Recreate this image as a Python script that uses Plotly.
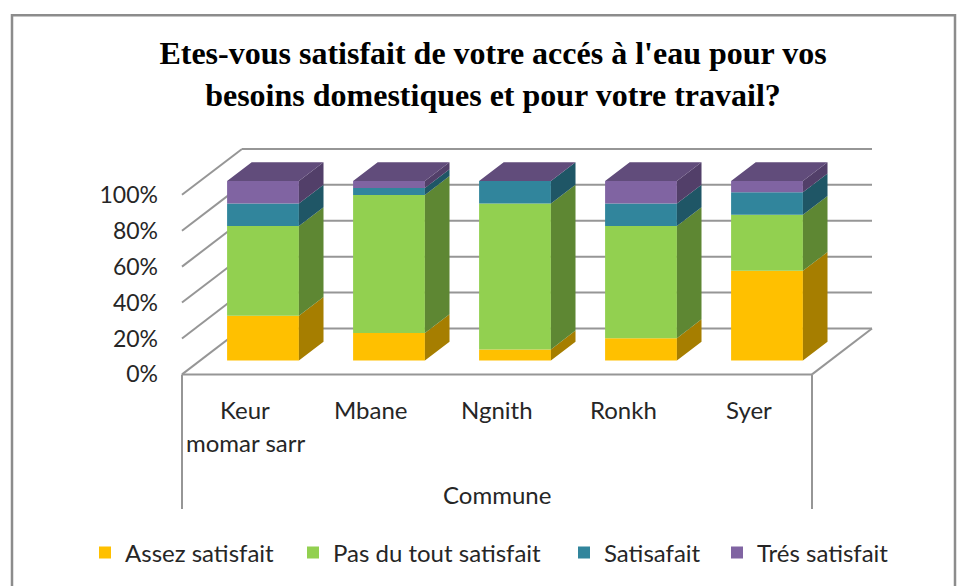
import plotly.graph_objects as go

# ---- data -------------------------------------------------------------
communes = ["Keur momar sarr", "Mbane", "Ngnith", "Ronkh", "Syer"]
commune_lines = [["Keur", "momar sarr"], ["Mbane"], ["Ngnith"], ["Ronkh"], ["Syer"]]
series_names = ["Assez satisfait", "Pas du tout satisfait", "Satisafait", "Trés satisfait"]
assez_satisfait = [25.0, 15.38, 6.25, 12.5, 50.0]
pas_du_tout_satisfait = [50.0, 76.92, 81.25, 62.5, 31.25]
satisafait = [12.5, 3.85, 12.5, 12.5, 12.5]
tres_satisfait = [12.5, 3.85, 0.0, 12.5, 6.25]
tick_values = [0, 20, 40, 60, 80, 100]
tick_labels = ["0%", "20%", "40%", "60%", "80%", "100%"]

series_values = [assez_satisfait, pas_du_tout_satisfait, satisafait, tres_satisfait]

# ---- styling ----------------------------------------------------------
front_colors = ["#FFC000", "#92D050", "#31859C", "#8064A2"]
side_colors = ["#A67E00", "#5E8733", "#1F5666", "#523F69"]
top_color = "#614C7B"
grid_color = "#969696"
text_color = "#262626"
label_font = "Lato"

W, H = 962, 586
ML, MR, MT, MB = 165, 62, 120, 56
SLOT_PX = 126.0          # width of one category slot
PCT_PX = 1.8             # pixels per percent
FLOOR_LEFT_PX = 182.0    # front-left corner of the floor
FLOOR_Y_PX = 375.0       # front edge of the floor (0 %)

# oblique projection of the chart depth, in data units
DEPTH_X = 60.0 / SLOT_PX
DEPTH_Y = 46.0 / PCT_PX
BAR_FRONT = 0.30         # depth fraction where the bar front faces sit
BAR_DEPTH = 0.41         # depth fraction occupied by each bar
BAR_WIDTH = 0.57

x0 = -0.5 - (FLOOR_LEFT_PX - ML) / SLOT_PX
x1 = x0 + (W - ML - MR) / SLOT_PX
y1 = (FLOOR_Y_PX - MT) / PCT_PX
y0 = -((H - MB) - FLOOR_Y_PX) / PCT_PX

n_cat = len(communes)
left_edge = -0.5
right_edge = n_cat - 0.5

fx = BAR_FRONT * DEPTH_X
fy = BAR_FRONT * DEPTH_Y
bdx = BAR_DEPTH * DEPTH_X
bdy = BAR_DEPTH * DEPTH_Y

pw = W - ML - MR
ph = H - MT - MB
def px_to_paper_x(px):
    return (px - ML) / pw
def px_to_paper_y(py):
    return ((H - MB) - py) / ph

# each legend entry gets its own legend box so the spacing can be set
legend_ids = ["legend", "legend2", "legend3", "legend4"]
legend_text_start_px = [124, 332, 603, 756]

fig = go.Figure()

# front faces of the stacked columns
cumulative = [0.0] * n_cat
bases = []
for s, vals in enumerate(series_values):
    base = [fy + c for c in cumulative]
    bases.append(list(cumulative))
    fig.add_trace(go.Bar(
        x=[i + fx for i in range(n_cat)],
        y=vals,
        base=base,
        width=BAR_WIDTH,
        name=series_names[s],
        legend=legend_ids[s],
        marker=dict(color=front_colors[s], line=dict(width=0)),
        customdata=communes,
        hovertemplate="%{customdata}<br>" + series_names[s] + ": %{y:.1f}%<extra></extra>",
    ))
    cumulative = [c + v for c, v in zip(cumulative, vals)]

# right-hand side faces, one polygon per segment
for s, vals in enumerate(series_values):
    xs, ys = [], []
    for i in range(n_cat):
        v = vals[i]
        if v <= 0:
            continue
        xr = i + fx + BAR_WIDTH / 2
        ya = fy + bases[s][i]
        yb = ya + v
        xs += [xr, xr + bdx, xr + bdx, xr, xr, None]
        ys += [ya, ya + bdy, yb + bdy, yb, ya, None]
    fig.add_trace(go.Scatter(
        x=xs, y=ys, mode="lines", fill="toself", fillcolor=side_colors[s],
        line=dict(width=0, color=side_colors[s]), showlegend=False, hoverinfo="skip",
    ))

# top faces
xs, ys = [], []
for i in range(n_cat):
    xl = i + fx - BAR_WIDTH / 2
    xr = i + fx + BAR_WIDTH / 2
    yt = fy + cumulative[i]
    xs += [xl, xl + bdx, xr + bdx, xr, xl, None]
    ys += [yt, yt + bdy, yt + bdy, yt, yt, None]
fig.add_trace(go.Scatter(
    x=xs, y=ys, mode="lines", fill="toself", fillcolor=top_color,
    line=dict(width=0, color=top_color), showlegend=False, hoverinfo="skip",
))

# walls and floor
shapes = []
line_style = dict(color=grid_color, width=2)
for v in tick_values:
    # back wall gridline
    shapes.append(dict(type="line", xref="x", yref="y", layer="below",
                       x0=left_edge + DEPTH_X, y0=v + DEPTH_Y,
                       x1=right_edge + DEPTH_X, y1=v + DEPTH_Y, line=line_style))
    # side wall gridline
    shapes.append(dict(type="line", xref="x", yref="y", layer="below",
                       x0=left_edge, y0=v, x1=left_edge + DEPTH_X, y1=v + DEPTH_Y,
                       line=line_style))
# floor front and right edges
shapes.append(dict(type="line", xref="x", yref="y", layer="below",
                   x0=left_edge, y0=0, x1=right_edge, y1=0, line=line_style))
shapes.append(dict(type="line", xref="x", yref="y", layer="below",
                   x0=right_edge, y0=0, x1=right_edge + DEPTH_X, y1=DEPTH_Y, line=line_style))
# category band edges below the floor
band_bottom = -(510 - FLOOR_Y_PX) / PCT_PX
for xe in (left_edge, right_edge):
    shapes.append(dict(type="line", xref="x", yref="y", layer="below",
                       x0=xe, y0=0, x1=xe, y1=band_bottom, line=line_style))

# outer chart frame
shapes.append(dict(type="rect", xref="paper", yref="paper",
                   x0=px_to_paper_x(12), x1=px_to_paper_x(955),
                   y0=px_to_paper_y(620), y1=px_to_paper_y(15),
                   line=dict(color="#8C8C8C", width=2.5), layer="below"))

# category labels and axis title
annotations = []
line_step = 33 / PCT_PX
first_line_y = -(410 - FLOOR_Y_PX) / PCT_PX
for i, lines in enumerate(commune_lines):
    for k, txt in enumerate(lines):
        annotations.append(dict(x=i, y=first_line_y - k * line_step, xref="x", yref="y",
                                text=txt, showarrow=False, xanchor="center", yanchor="middle",
                                font=dict(family=label_font, size=24, color=text_color)))
annotations.append(dict(x=(n_cat - 1) / 2, y=-(495 - FLOOR_Y_PX) / PCT_PX, xref="x", yref="y",
                        text="Commune", showarrow=False, xanchor="center", yanchor="middle",
                        font=dict(family=label_font, size=24, color=text_color)))

layout_legends = {}
for lid, tx in zip(legend_ids, legend_text_start_px):
    layout_legends[lid] = dict(
        orientation="h", x=px_to_paper_x(tx - 39), xanchor="left",
        y=px_to_paper_y(553), yanchor="middle",
        font=dict(family=label_font, size=24, color=text_color),
        bgcolor="rgba(0,0,0,0)",
    )

fig.update_layout(
    width=W, height=H,
    margin=dict(l=ML, r=MR, t=MT, b=MB),
    paper_bgcolor="white", plot_bgcolor="white",
    barmode="overlay",
    title=dict(
        text="Etes-vous satisfait de votre accés à l'eau pour vos<br>besoins domestiques et pour votre travail?",
        x=493 / W, xanchor="center", xref="container",
        y=1 - 64 / H, yanchor="middle", yref="container",
        font=dict(family="Liberation Serif", size=32, color="black", weight="bold"),
    ),
    xaxis=dict(range=[x0, x1], showgrid=False, zeroline=False, showline=False,
               showticklabels=False, ticks="", fixedrange=True),
    yaxis=dict(range=[y0, y1], showgrid=False, zeroline=False, showline=False,
               tickvals=tick_values, ticktext=tick_labels, ticks="",
               ticklabelstandoff=6,
               tickfont=dict(family=label_font, size=23, color=text_color), fixedrange=True),
    shapes=shapes,
    annotations=annotations,
    showlegend=True,
    **layout_legends,
)

fig.write_html("out.html")
